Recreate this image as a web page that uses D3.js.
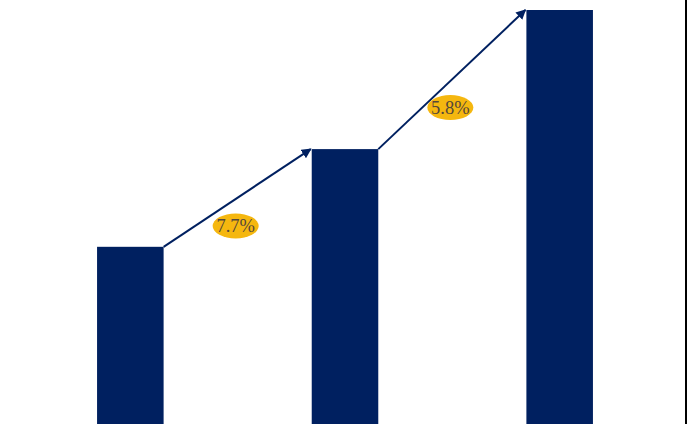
<!DOCTYPE html>
<html>
	<head>
		<title>Growth bars | D3</title>
		<script src="https://d3js.org/d3.v7.min.js" charset="utf-8"></script>
		<style>
			body {
				margin: 0;
				background: white;
			}
			.rate {
				font-family: "Liberation Serif", "DejaVu Serif", serif;
				font-size: 18.5px;
				fill: #55483a;
			}
		</style>
	</head>
	<body>
		<script>
		// values (bar heights, no axis shown)
		var categories = ["Y1", "Y2", "Y3"];
		var values = [42.8, 66.4, 100];
		var growthLabels = ["7.7%", "5.8%"];

		var width = 688;
		var height = 424;

		var barColor = "#002060";
		var badgeColor = "#f5b70f";

		var svg = d3.select("body")
			.append("svg")
			.attr("width", width)
			.attr("height", height);

		svg.append("defs").append("marker")
			.attr("id", "arrow")
			.attr("viewBox", "0 0 10 10")
			.attr("refX", 9)
			.attr("refY", 5)
			.attr("markerWidth", 5)
			.attr("markerHeight", 5)
			.attr("orient", "auto")
			.append("path")
			.attr("d", "M0,0 L10,5 L0,10 z")
			.attr("fill", barColor);

		var x = d3.scaleBand()
			.domain(categories)
			.range([23, 667])
			.paddingInner(0.69)
			.paddingOuter(0.345);

		var y = d3.scaleLinear()
			.domain([0, 100])
			.range([424, 10]);

		var data = categories.map(function(c, i){ return {cat: c, val: values[i]}; });

		svg.append("g").selectAll("rect")
			.data(data)
			.enter()
			.append("rect")
			.attr("x", function(d){ return x(d.cat); })
			.attr("y", function(d){ return y(d.val); })
			.attr("width", x.bandwidth())
			.attr("height", function(d){ return height - y(d.val); })
			.attr("fill", barColor);

		// arrows from one bar top to the next
		var pairs = d3.pairs(data);

		svg.append("g").selectAll("line")
			.data(pairs)
			.enter()
			.append("line")
			.attr("x1", function(p){ return x(p[0].cat) + x.bandwidth(); })
			.attr("y1", function(p){ return y(p[0].val); })
			.attr("x2", function(p){ return x(p[1].cat) - 1; })
			.attr("y2", function(p){ return y(p[1].val); })
			.attr("stroke", barColor)
			.attr("stroke-width", 2)
			.attr("marker-end", "url(#arrow)");

		// growth badges, sitting below the middle of each arrow
		var badges = svg.append("g").selectAll("g")
			.data(pairs)
			.enter()
			.append("g")
			.attr("transform", function(p, i){
				var mx = (x(p[0].cat) + x.bandwidth() + x(p[1].cat)) / 2;
				var my = (y(p[0].val) + y(p[1].val)) / 2;
				return "translate(" + (mx - 2) + "," + (my + 28) + ")";
			});

		badges.append("ellipse")
			.attr("rx", 23)
			.attr("ry", 12.5)
			.attr("fill", badgeColor);

		badges.append("text")
			.attr("class", "rate")
			.attr("text-anchor", "middle")
			.attr("dy", "0.35em")
			.text(function(p, i){ return growthLabels[i]; });

		// thin frame line on the right edge
		svg.append("line")
			.attr("x1", 686)
			.attr("x2", 686)
			.attr("y1", 0)
			.attr("y2", height)
			.attr("stroke", "#000")
			.attr("stroke-width", 2);

		</script>
	</body>
</html>
